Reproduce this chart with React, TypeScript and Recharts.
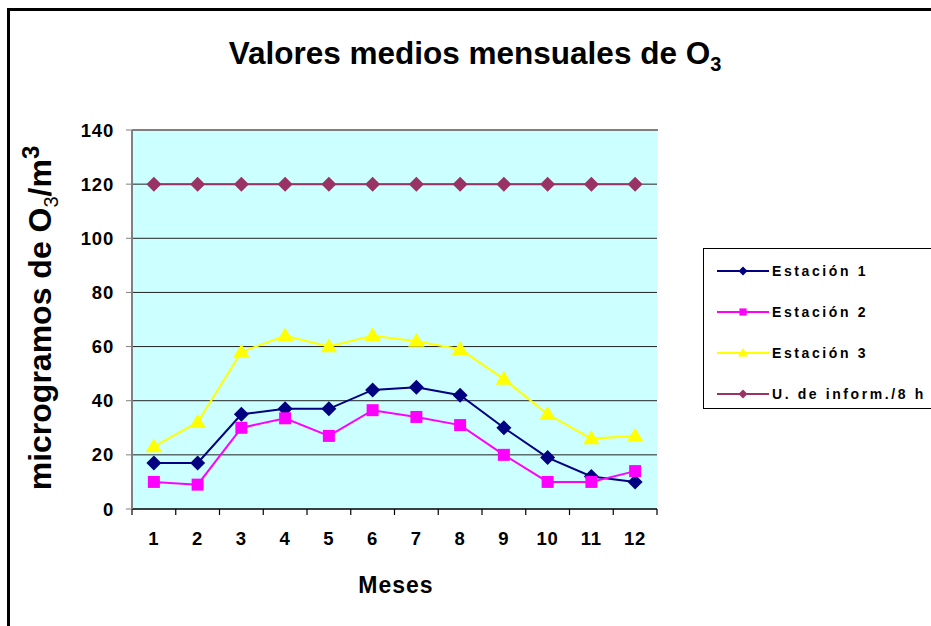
import { LineChart, Line, XAxis, YAxis, CartesianGrid } from "recharts";

const MESES = [1, 2, 3, 4, 5, 6, 7, 8, 9, 10, 11, 12];
const ESTACION_1 = [17, 17, 35, 37, 37, 44, 45, 42, 30, 19, 12, 10];
const ESTACION_2 = [10, 9, 30, 33.5, 27, 36.5, 34, 31, 20, 10, 10, 14];
const ESTACION_3 = [23, 32, 58, 64, 60, 64, 62, 59, 48, 35, 26, 27];
const UMBRAL = [120, 120, 120, 120, 120, 120, 120, 120, 120, 120, 120, 120];
const Y_TICKS = [0, 20, 40, 60, 80, 100, 120, 140];
const BORDES_MES = [0.5, 1.5, 2.5, 3.5, 4.5, 5.5, 6.5, 7.5, 8.5, 9.5, 10.5, 11.5, 12.5];

const FONT = '"Liberation Sans", Arial, Helvetica, sans-serif';

const data = MESES.map((mes, i) => ({
  mes,
  etiqueta: String(mes),
  e1: ESTACION_1[i],
  e2: ESTACION_2[i],
  e3: ESTACION_3[i],
  u: UMBRAL[i],
}));

type Shape = "diamond" | "square" | "triangle";

function markerPath(shape: Shape, cx: number, cy: number, r: number) {
  if (shape === "diamond") return `M${cx},${cy - r} L${cx + r},${cy} L${cx},${cy + r} L${cx - r},${cy} Z`;
  if (shape === "square") return `M${cx - r * 0.8},${cy - r * 0.8} h${r * 1.6} v${r * 1.6} h${-r * 1.6} Z`;
  return `M${cx},${cy - r * 1.1} L${cx + r * 1.1},${cy + r * 0.75} L${cx - r * 1.1},${cy + r * 0.75} Z`;
}

function makeDot(shape: Shape, color: string, r: number) {
  return (props: any) => {
    const { cx, cy, index } = props;
    if (cx == null || cy == null) return <g key={index} />;
    return <path key={index} d={markerPath(shape, cx, cy, r)} fill={color} />;
  };
}

const SERIES: { key: string; name: string; color: string; shape: Shape }[] = [
  { key: "e1", name: "Estación 1", color: "#000080", shape: "diamond" },
  { key: "e2", name: "Estación 2", color: "#FF00FF", shape: "square" },
  { key: "e3", name: "Estación 3", color: "#FFFF00", shape: "triangle" },
  { key: "u", name: "U. de inform./8 h", color: "#993366", shape: "diamond" },
];

function LegendBox() {
  return (
    <div
      style={{
        position: "absolute",
        left: 703,
        top: 248,
        border: "1px solid #000",
        background: "#fff",
        width: 240,
        height: 161,
        boxSizing: "border-box",
        paddingTop: 1,
        fontFamily: FONT,
      }}
    >
      {SERIES.map((s) => (
        <div key={s.key} style={{ display: "flex", alignItems: "center", height: 41 }}>
          <svg width={70} height={12} style={{ marginLeft: 13 }}>
            <line x1={0} y1={6} x2={52} y2={6} stroke={s.color} strokeWidth={2} />
            <path d={markerPath(s.shape, 26, 6, 4.5)} fill={s.color} />
          </svg>
          <span
            style={{
              marginLeft: -15,
              fontSize: 14,
              fontWeight: "bold",
              letterSpacing: 2.6,
              whiteSpace: "nowrap",
            }}
          >
            {s.name}
          </span>
        </div>
      ))}
    </div>
  );
}

export default function App() {
  return (
    <div
      style={{
        position: "absolute",
        left: 0,
        top: 0,
        width: 931,
        height: 626,
        overflow: "hidden",
        background: "#fff",
        fontFamily: FONT,
      }}
    >
      <div
        style={{
          position: "absolute",
          left: 7,
          top: 8,
          width: 1000,
          height: 1000,
          borderLeft: "3px solid #000",
          borderTop: "3px solid #000",
        }}
      />
      <div
        style={{
          position: "absolute",
          left: 0,
          width: 950,
          top: 35,
          textAlign: "center",
          fontSize: 31.5,
          fontWeight: "bold",
          whiteSpace: "nowrap",
        }}
      >
        Valores medios mensuales de O<sub style={{ fontSize: 20 }}>3</sub>
      </div>
      <div
        style={{
          position: "absolute",
          left: 40,
          top: 318,
          transform: "translate(-50%, -50%) rotate(-90deg)",
          fontSize: 32,
          fontWeight: "bold",
          whiteSpace: "nowrap",
        }}
      >
        microgramos de O<sub style={{ fontSize: 20, fontWeight: "normal" }}>3</sub>/m
        <sup style={{ fontSize: 24 }}>3</sup>
      </div>
      <div
        style={{
          position: "absolute",
          left: 396,
          top: 585,
          transform: "translate(-50%, -50%)",
          fontSize: 23,
          letterSpacing: 1,
          fontWeight: "bold",
        }}
      >
        Meses
      </div>
      <div style={{ position: "absolute", left: 0, top: 0 }}>
        <LineChart width={931} height={626} data={data} margin={{ top: 130, right: 274, bottom: 0, left: 0 }}>
          <CartesianGrid
            horizontal
            vertical={false}
            fill="#CCFFFF"
            fillOpacity={1}
            stroke="#222"
            horizontalValues={[20, 40, 60, 80, 100, 120]}
          />
          <XAxis
            xAxisId={0}
            dataKey="mes"
            type="number"
            domain={[0.5, 12.5]}
            ticks={BORDES_MES}
            tick={() => <g />}
            height={8}
            tickSize={6}
            interval={0}
            axisLine={{ stroke: "#000", strokeWidth: 1.5 }}
            tickLine={{ stroke: "#000", strokeWidth: 1.2 }}
          />
          <XAxis
            xAxisId={1}
            dataKey="etiqueta"
            type="category"
            scale="band"
            height={109}
            axisLine={false}
            tickLine={false}
            tickSize={6}
            tickMargin={9}
            interval={0}
            tick={{ fill: "#000", fontSize: 18.5, fontWeight: "bold", fontFamily: FONT, letterSpacing: 0.8 }}
          />
          <YAxis
            yAxisId={0}
            width={132}
            domain={[0, 140]}
            ticks={Y_TICKS}
            tickSize={6}
            tickMargin={12}
            interval={0}
            axisLine={{ stroke: "#808080", strokeWidth: 2 }}
            tickLine={{ stroke: "#808080" }}
            tick={{ fill: "#000", fontSize: 18.5, fontWeight: "bold", fontFamily: FONT, letterSpacing: 0.8 }}
          />
          <YAxis
            yAxisId={1}
            orientation="right"
            width={0}
            domain={[0, 140]}
            tick={false}
            tickLine={false}
            axisLine={{ stroke: "#808080", strokeWidth: 2 }}
          />
          {SERIES.map((s) => (
            <Line
              key={s.key}
              xAxisId={0}
              yAxisId={0}
              dataKey={s.key}
              name={s.name}
              stroke={s.color}
              strokeWidth={2}
              dot={makeDot(s.shape, s.color, 7.5)}
              activeDot={false}
              isAnimationActive={false}
            />
          ))}
        </LineChart>
      </div>
      <div
        style={{
          position: "absolute",
          left: 132,
          top: 129,
          width: 526,
          height: 0,
          borderTop: "2px solid #808080",
        }}
      />
      <LegendBox />
    </div>
  );
}
